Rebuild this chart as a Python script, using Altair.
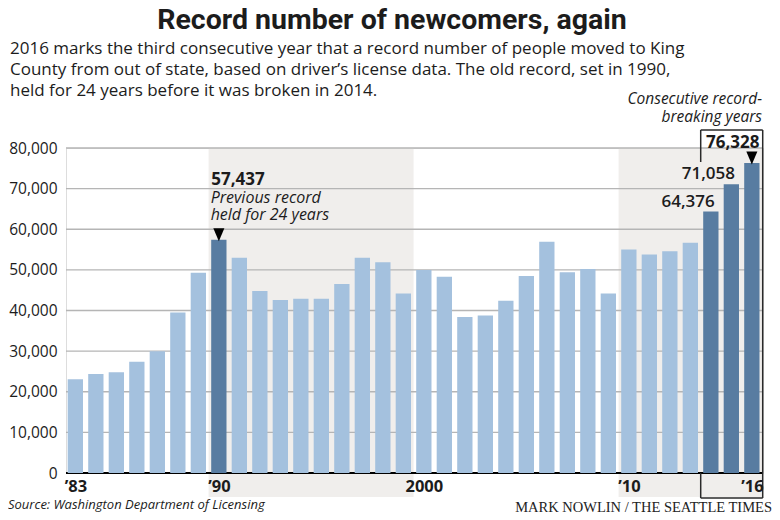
import altair as alt
import pandas as pd

# ---------------- data ----------------
years = list(range(1983, 2017))
newcomers = [23100, 24400, 24800, 27400, 30000, 39500, 49300,
             57437,
             53000, 44800, 42600, 42900, 42900, 46500, 53000, 51900, 44200,
             50000, 48300, 38400, 38800, 42400, 48500, 56900, 49400, 50200, 44200,
             55000, 53800, 54600, 56700,
             64376, 71058, 76328]
record_years = [1990, 2014, 2015, 2016]
tick_years = [1983, 1990, 2000, 2010, 2016]
tick_labels = ["\u201983", "\u201990", "2000", "\u201910", "\u201916"]
shade_start = [1989.5, 2009.5]
shade_end = [1999.5, 2016.544]
grid_values = [10000, 20000, 30000, 40000, 50000, 60000, 70000, 80000]

title = "Record number of newcomers, again"
intro = ["2016 marks the third consecutive year that a record number of people moved to King",
         "County from out of state, based on driver\u2019s license data. The old record, set in 1990,",
         "held for 24 years before it was broken in 2014."]
note_prev = ["Previous record", "held for 24 years"]
note_consec = ["Consecutive record-", "breaking years"]
source = "Source: Washington Department of Licensing"
credit = "MARK NOWLIN / THE SEATTLE TIMES"

df = pd.DataFrame({"year": years, "value": newcomers})
df["record"] = df["year"].isin(record_years)
shade_df = pd.DataFrame({"start": shade_start, "end": shade_end})
grid_df = pd.DataFrame({"v": grid_values})
one = pd.DataFrame({"k": [0]})

def val(y):
    return newcomers[years.index(y)]

# ---------------- layout ----------------
W, H = 697, 325
FONT = "Open Sans"
INK = "#1c1c1c"

x_scale = alt.Scale(domain=[1982.544, 2016.544], nice=False, zero=False)
y_scale = alt.Scale(domain=[0, 80000], nice=False, zero=True)

label_expr = " : ".join(
    f"datum.value == {y} ? '{l}'" for y, l in zip(tick_years, tick_labels)
) + " : ''"

x_axis = alt.Axis(values=tick_years, labelExpr=label_expr, grid=False, domain=False,
                  ticks=False, labelPadding=5, labelFont=FONT, labelFontSize=16.5,
                  labelFontWeight="bold", labelColor=INK, zindex=1, title=None,
                  labelOverlap=False, labelFlush=False)
y_axis = alt.Axis(values=[0] + grid_values, format=",.0f", grid=False, domain=False,
                  ticks=False, labelPadding=9, labelFont=FONT, labelFontSize=15.5,
                  labelColor=INK, title=None)

def X(field):
    return alt.X(field, type="quantitative", scale=x_scale, axis=x_axis, title=None)

def Y(field):
    return alt.Y(field, type="quantitative", scale=y_scale, axis=y_axis, title=None)

# background shading
shade = alt.Chart(shade_df).mark_rect(color="#f0eeec").encode(
    x=X("start"), x2="end", y=alt.value(0), y2=alt.value(349))

# gridlines
grid = alt.Chart(grid_df).mark_rule(color="#b5b5b5", strokeWidth=1.3).encode(
    y=Y("v"), x=alt.value(0), x2=alt.value(W))

# axis base line
base_line = alt.Chart(one).mark_rule(color="black", strokeWidth=2.2).encode(
    y=alt.value(H), x=alt.value(0), x2=alt.value(W))

# bars
bars = alt.Chart(df).transform_calculate(
    x0="datum.year - 0.373", x1="datum.year + 0.373"
).mark_rect().encode(
    x=X("x0"), x2="x1",
    y=Y("value"), y2=alt.datum(0),
    color=alt.condition("datum.record", alt.value("#587ca1"), alt.value("#a4c1de")),
)

# box around 2014-2016
BOXC = "#2a2a2a"
def seg(x0, x1=None, y0=None, y1=None):
    enc = {"x": alt.X(datum=x0, type="quantitative", scale=x_scale, axis=x_axis)}
    if x1 is not None:
        enc["x2"] = alt.X2(datum=x1)
    enc["y"] = alt.value(y0)
    if y1 is not None:
        enc["y2"] = alt.value(y1)
    return alt.Chart(one).mark_rule(color=BOXC, strokeWidth=1.5).encode(**enc)

bx0, bx1 = 2013.505, 2016.53
box = [seg(bx0, bx1, -18), seg(bx0, bx1, 350),
       seg(bx1, None, -18, 350), seg(bx0, None, -18, 14), seg(bx0, None, H, 350)]

# data annotations
def label(year, text, dx_year, dy, align, weight="bold", size=17, style="normal"):
    d = pd.DataFrame({"year": [year + dx_year], "value": [val(year)]})
    return alt.Chart(d).mark_text(
        text=text, align=align, baseline="alphabetic", dy=dy, font=FONT,
        fontSize=size, fontWeight=weight, fontStyle=style, color=INK
    ).encode(x=X("year"), y=Y("value"))

ann = [
    label(1990, f"{val(1990):,}", -0.373, -54.7, "left"),
    label(1990, note_prev[0], -0.40, -37, "left", weight="normal", size=16, style="italic"),
    label(1990, note_prev[1], -0.40, -19.5, "left", weight="normal", size=16, style="italic"),
    label(2016, f"{val(2016):,}", 0.373, -14.6, "right"),
    label(2015, f"{val(2015):,}", 0.178, -5, "right", weight=600),
    label(2014, f"{val(2014):,}", 0.19, -4.2, "right", weight=600),
]

tri_df = pd.DataFrame({"year": [1990, 2016], "value": [val(1990), val(2016)]})
tri = alt.Chart(tri_df).mark_point(
    shape="M-0.85,-1L0.85,-1L0,1Z", size=169, filled=True, color="black",
    opacity=1, yOffset=-5
).encode(x=X("year"), y=Y("value"))

# headline texts
def txt(text, x, y, align="left", size=17, weight="normal", style="normal", font=FONT, color=INK):
    return alt.Chart(one).mark_text(
        text=text, align=align, baseline="alphabetic", font=font, fontSize=size,
        fontWeight=weight, fontStyle=style, color=color
    ).encode(x=alt.value(x), y=alt.value(y))

texts = [
    txt(title, 326, -119.5, align="center", size=28.5, weight="bold", font="Roboto"),
    txt(intro[0], -56, -94),
    txt(intro[1], -56, -73),
    txt(intro[2], -56, -52),
    txt(note_consec[0], 696, -44, align="right", size=15.5, style="italic"),
    txt(note_consec[1], 696, -26.5, align="right", size=15.5, style="italic"),
    txt(source, -58, 361, size=13, style="italic"),
    txt(credit, 706, 363.5, align="right", size=14.5, font="Liberation Serif", color="#222"),
]

chart = alt.layer(shade, grid, base_line, bars, *box, tri, *ann, *texts).properties(
    width=W, height=H,
    autosize=alt.AutoSizeParams(type="none"),
    padding={"left": 58, "top": 140, "right": 9, "bottom": 39},
).configure_view(stroke=None).configure(background="white")

chart.save("out.html", embed_options={"renderer": "svg", "actions": False})
